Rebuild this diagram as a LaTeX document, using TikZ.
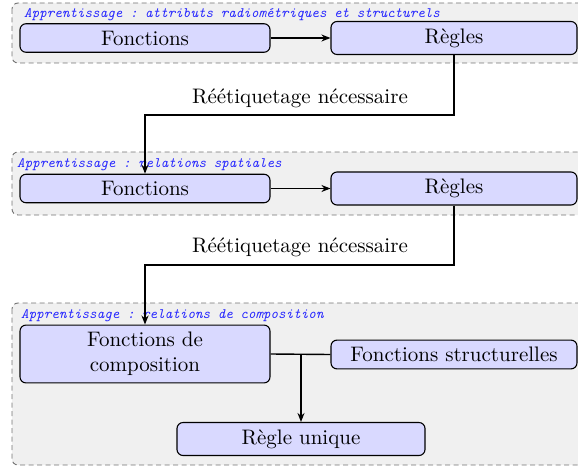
\documentclass[tikz,border=0pt]{standalone}
\usepackage{fontspec}
\setmainfont{lmroman10-regular.otf}
\setmonofont{lmmono10-regular.otf}[ItalicFont=lmmono10-italic.otf]
\usetikzlibrary{arrows.meta}
\begin{document}
\begin{tikzpicture}[x=1pt,y=-1pt,
  grp/.style={draw=black!55,dash pattern=on 5pt off 3.5pt,line width=0.9pt,fill=black!6,rounded corners=6pt},
  ttl/.style={anchor=base west,inner sep=0pt,text=blue!85,font=\fontsize{14.4}{17}\selectfont\ttfamily\itshape},
  box/.style={draw=black,line width=1.1pt,fill=blue!15,rounded corners=6pt,inner ysep=7pt,
    font=\fontsize{21}{25.2}\selectfont},
  lbl/.style={font=\fontsize{21}{25.2}\selectfont,inner sep=0pt},
  arr/.style={line width=1.4pt,-{Stealth[length=9pt,width=7pt]}},
  ln/.style={line width=1.4pt}]
\useasboundingbox (0,0) rectangle (578,468);
\clip (0,0) rectangle (578,468);
% groups
\path[grp] (12,3) rectangle (600,63);
\path[grp] (12,152) rectangle (600,215);
\path[grp] (12,303) rectangle (600,465);
\node[ttl] (t1) at (24,18) {Apprentissage : attributs radiométriques et structurels};
\node[ttl] (t2) at (17,167) {Apprentissage : relations spatiales};
\node[ttl] (t3) at (21,318) {Apprentissage : relations de composition};
% group 1
\node[box,minimum width=250pt] (f1) at (145,38) {Fonctions};
\node[box,minimum width=246pt] (r1) at (454,38) {Règles};
\draw[arr] (f1.east) -- (r1.west);
% group 2
\node[box,minimum width=250pt] (f2) at (145,188.5) {Fonctions};
\node[box,minimum width=246pt] (r2) at (454,188.5) {Règles};
\draw[arr] (f2.east) -- (r2.west);
% group 3
\node[box,minimum width=250pt,align=center] (fc) at (145,354) {Fonctions de\\composition};
\node[box,minimum width=246pt] (fs) at (454,354.5) {Fonctions structurelles};
\node[box,minimum width=248pt] (ru) at (301,439) {Règle unique};
\coordinate (j) at (301,354);
\draw[ln] (fc.east) -- (fs.west);
\draw[arr] (j) -- (ru.north);
% relabel connectors
\coordinate (k1) at (145,115);
\coordinate (k2) at (145,265);
\draw[arr] (r1.south) |- (k1) -- (f2.north);
\draw[arr] (r2.south) |- (k2) -- (fc.north);
\node[lbl] (l1) at (300,98) {Réétiquetage nécessaire};
\node[lbl] (l2) at (300,247) {Réétiquetage nécessaire};
\end{tikzpicture}
\end{document}
